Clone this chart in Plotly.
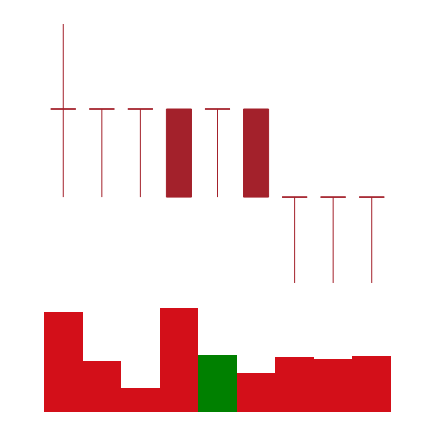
import plotly.graph_objects as go

days = ["D1", "D2", "D3", "D4", "D5", "D6", "D7", "D8", "D9"]
open_ = [10.0, 10.0, 10.0, 10.0, 10.0, 10.0, 8.0, 8.0, 8.0]
high = [11.93, 10.0, 10.0, 10.0, 10.0, 10.0, 8.0, 8.0, 8.0]
low = [8.0, 8.0, 8.0, 8.0, 8.0, 8.0, 6.05, 6.05, 6.05]
close = [10.0, 10.0, 10.0, 8.0, 10.0, 8.0, 8.0, 8.0, 8.0]
volume = [9600, 4880, 2280, 10000, 5470, 3730, 5270, 5080, 5370]
vol_colors = ["#D30F19", "#D30F19", "#D30F19", "#D30F19", "#008000",
              "#D30F19", "#D30F19", "#D30F19", "#D30F19"]

candle_color = "#A3212B"

fig = go.Figure()
fig.add_trace(go.Candlestick(
    x=days, open=open_, high=high, low=low, close=close,
    increasing=dict(line=dict(color=candle_color, width=1), fillcolor=candle_color),
    decreasing=dict(line=dict(color=candle_color, width=1), fillcolor=candle_color),
    whiskerwidth=0,
    xaxis="x", yaxis="y", showlegend=False,
))
fig.add_trace(go.Bar(
    x=days, y=volume, marker=dict(color=vol_colors, line=dict(width=0)),
    xaxis="x", yaxis="y2", showlegend=False,
))

fig.update_layout(
    width=434, height=422,
    margin=dict(l=44, r=43, t=24, b=10),
    paper_bgcolor="white", plot_bgcolor="white",
    bargap=0,
    boxgap=0.35, boxgroupgap=0,
    xaxis=dict(type="category", range=[-0.5, 8.5], visible=False,
               rangeslider=dict(visible=False), fixedrange=True),
    yaxis=dict(domain=[0.3325, 1], range=[6.05, 11.93], visible=False),
    yaxis2=dict(domain=[0, 0.268], range=[0, 10000], visible=False, anchor="x"),
)

fig.write_html("out.html")
